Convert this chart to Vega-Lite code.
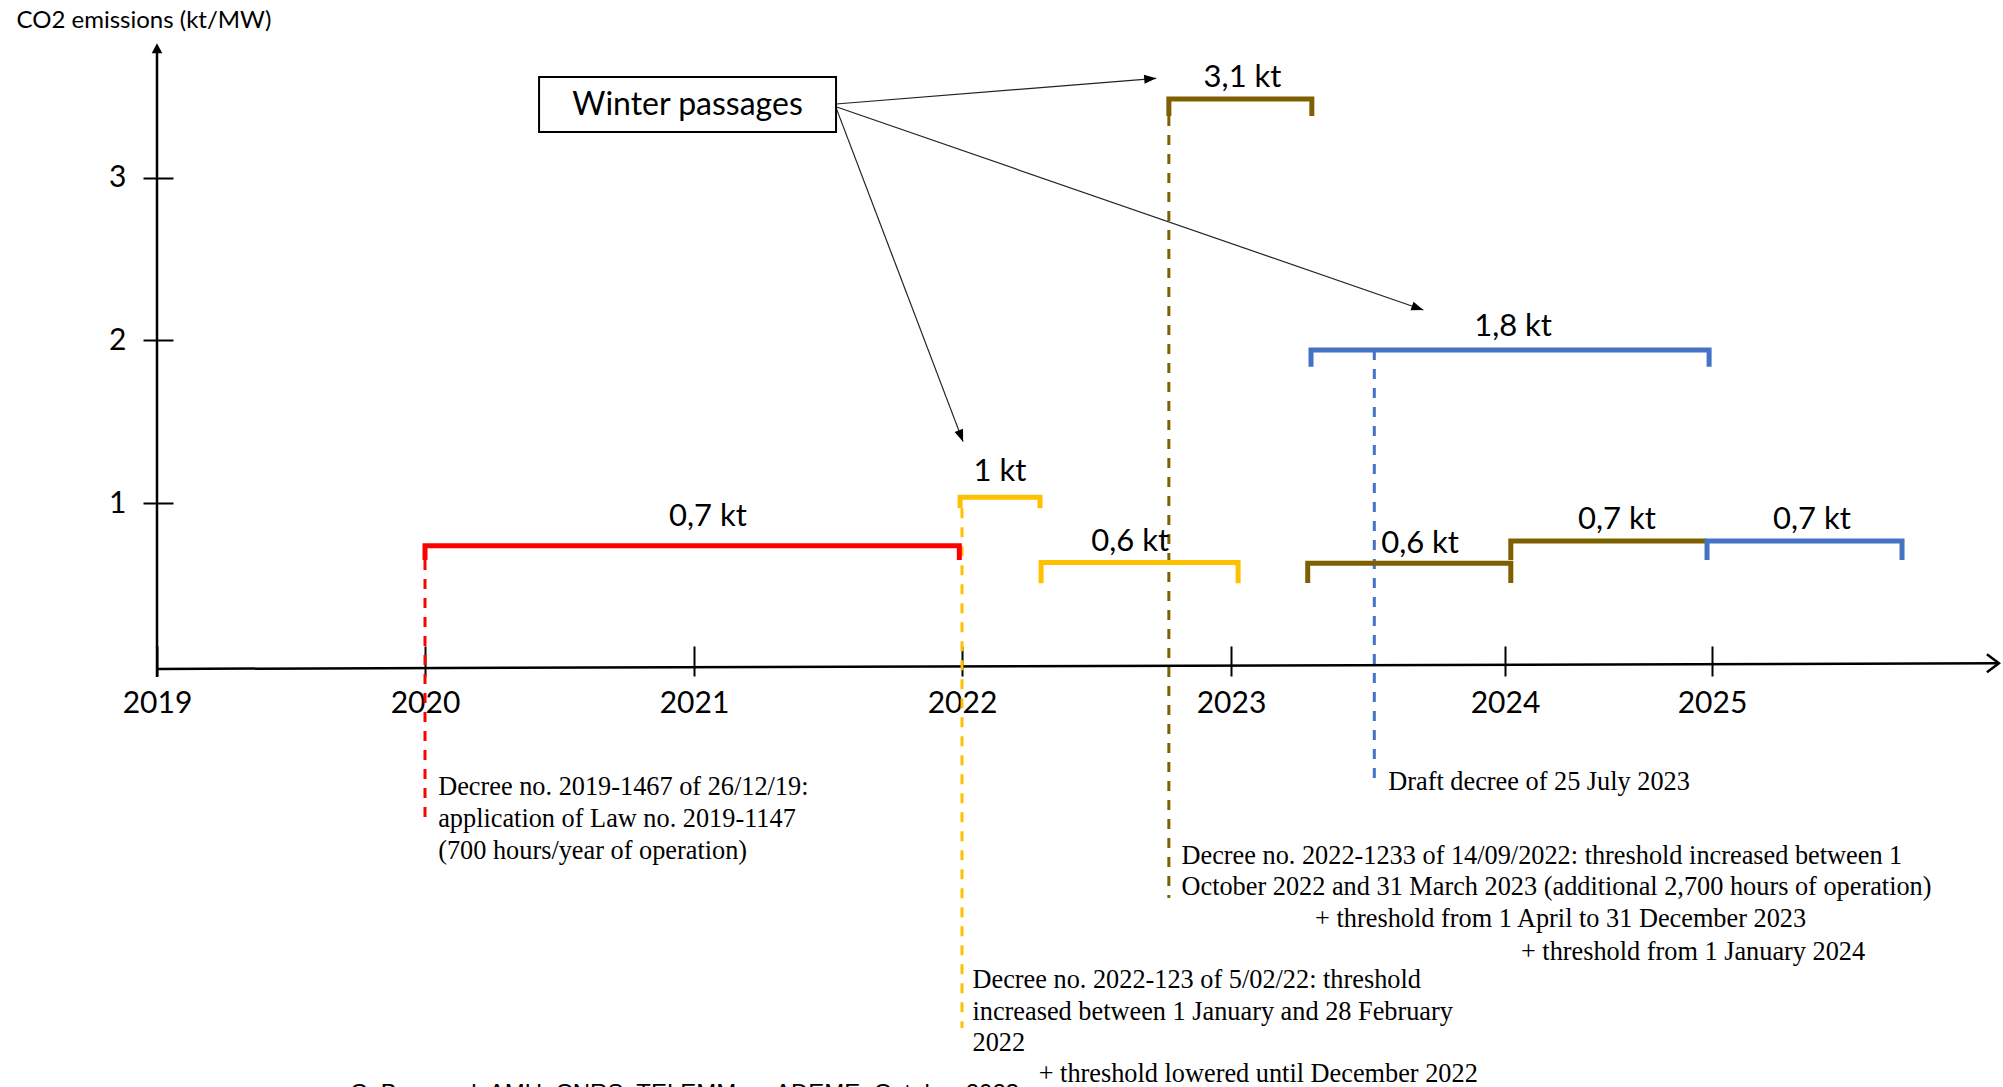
{
  "$schema": "https://vega.github.io/schema/vega-lite/v6.json",
  "width": 1846,
  "height": 666,
  "autosize": {"type": "none"},
  "padding": {"left": 157, "top": 0, "right": 0, "bottom": 421},
  "background": "white",
  "config": {"view": {"stroke": null}, "font": "Lato"},
  "datasets": {
    "brackets": [
      {"id": "b1", "series": "Decree 2019-1467", "seq": 1, "year": 2020.0, "kt": 0.651},
      {"id": "b1", "series": "Decree 2019-1467", "seq": 2, "year": 2020.0, "kt": 0.739},
      {"id": "b1", "series": "Decree 2019-1467", "seq": 3, "year": 2021.99, "kt": 0.739},
      {"id": "b1", "series": "Decree 2019-1467", "seq": 4, "year": 2021.99, "kt": 0.651},
      {"id": "b2", "series": "Decree 2022-123", "seq": 1, "year": 2021.993, "kt": 0.969},
      {"id": "b2", "series": "Decree 2022-123", "seq": 2, "year": 2021.993, "kt": 1.036},
      {"id": "b2", "series": "Decree 2022-123", "seq": 3, "year": 2022.29, "kt": 1.036},
      {"id": "b2", "series": "Decree 2022-123", "seq": 4, "year": 2022.29, "kt": 0.969},
      {"id": "b3", "series": "Decree 2022-123", "seq": 1, "year": 2022.294, "kt": 0.508},
      {"id": "b3", "series": "Decree 2022-123", "seq": 2, "year": 2022.294, "kt": 0.635},
      {"id": "b3", "series": "Decree 2022-123", "seq": 3, "year": 2023.026, "kt": 0.635},
      {"id": "b3", "series": "Decree 2022-123", "seq": 4, "year": 2023.026, "kt": 0.508},
      {"id": "b4", "series": "Decree 2022-1233", "seq": 1, "year": 2022.769, "kt": 3.378},
      {"id": "b4", "series": "Decree 2022-1233", "seq": 2, "year": 2022.769, "kt": 3.483},
      {"id": "b4", "series": "Decree 2022-1233", "seq": 3, "year": 2023.295, "kt": 3.483},
      {"id": "b4", "series": "Decree 2022-1233", "seq": 4, "year": 2023.295, "kt": 3.378},
      {"id": "b5", "series": "Decree 2022-1233", "seq": 1, "year": 2023.28, "kt": 0.51},
      {"id": "b5", "series": "Decree 2022-1233", "seq": 2, "year": 2023.28, "kt": 0.631},
      {"id": "b5", "series": "Decree 2022-1233", "seq": 3, "year": 2024.028, "kt": 0.631},
      {"id": "b5", "series": "Decree 2022-1233", "seq": 4, "year": 2024.028, "kt": 0.51},
      {"id": "b6", "series": "Decree 2022-1233", "seq": 1, "year": 2024.028, "kt": 0.651},
      {"id": "b6", "series": "Decree 2022-1233", "seq": 2, "year": 2024.028, "kt": 0.768},
      {"id": "b6", "series": "Decree 2022-1233", "seq": 3, "year": 2024.971, "kt": 0.768},
      {"id": "b7", "series": "Draft decree 25/07/2023", "seq": 1, "year": 2024.976, "kt": 0.651},
      {"id": "b7", "series": "Draft decree 25/07/2023", "seq": 2, "year": 2024.976, "kt": 0.768},
      {"id": "b7", "series": "Draft decree 25/07/2023", "seq": 3, "year": 2025.918, "kt": 0.768},
      {"id": "b7", "series": "Draft decree 25/07/2023", "seq": 4, "year": 2025.918, "kt": 0.651},
      {"id": "b8", "series": "Draft decree 25/07/2023", "seq": 1, "year": 2023.292, "kt": 1.838},
      {"id": "b8", "series": "Draft decree 25/07/2023", "seq": 2, "year": 2023.292, "kt": 1.941},
      {"id": "b8", "series": "Draft decree 25/07/2023", "seq": 3, "year": 2024.986, "kt": 1.941},
      {"id": "b8", "series": "Draft decree 25/07/2023", "seq": 4, "year": 2024.986, "kt": 1.838}
    ],
    "dashes": [
      {"series": "Decree 2019-1467", "year": 2020.0, "kt": 0.651, "kt2": -0.928},
      {"series": "Decree 2022-123", "year": 2022.0, "kt": 0.969, "kt2": -2.224},
      {"series": "Decree 2022-1233", "year": 2022.769, "kt": 3.378, "kt2": -1.425},
      {"series": "Draft decree 25/07/2023", "year": 2023.523, "kt": 1.941, "kt2": -0.711}
    ],
    "axisLines": [
      {"axis": "y", "year": 2019, "kt": -0.068, "year2": 2019, "kt2": 3.8},
      {"axis": "x", "year": 2019, "kt": -0.018, "year2": 2026.38, "kt2": 0.017}
    ],
    "axisHeads": [
      {"axis": "y", "year": 2019, "kt": 3.825},
      {"axis": "x", "year": 2026.386, "kt": 0.017}
    ],
    "ktLabels": [
      {"text": "0,7 kt", "year": 2021.052, "kt": 0.917},
      {"text": "1 kt", "year": 2022.141, "kt": 1.193},
      {"text": "0,6 kt", "year": 2022.625, "kt": 0.764},
      {"text": "3,1 kt", "year": 2023.042, "kt": 3.61},
      {"text": "1,8 kt", "year": 2024.039, "kt": 2.082},
      {"text": "0,6 kt", "year": 2023.69, "kt": 0.749},
      {"text": "0,7 kt", "year": 2024.541, "kt": 0.897},
      {"text": "0,7 kt", "year": 2025.483, "kt": 0.897}
    ],
    "notes": [
      {"text": "Decree no. 2019-1467 of 26/12/19:", "year": 2020.049, "kt": -0.746},
      {"text": "application of Law no. 2019-1147", "year": 2020.049, "kt": -0.937},
      {"text": "(700 hours/year of operation)", "year": 2020.049, "kt": -1.136},
      {"text": "Draft decree of 25 July 2023", "year": 2023.574, "kt": -0.711},
      {"text": "Decree no. 2022-1233 of 14/09/2022: threshold increased between 1", "year": 2022.816, "kt": -1.167},
      {"text": "October 2022 and 31 March 2023 (additional 2,700 hours of operation)", "year": 2022.816, "kt": -1.359},
      {"text": "+ threshold from 1 April to 31 December 2023", "year": 2023.307, "kt": -1.556},
      {"text": "+ threshold from 1 January 2024", "year": 2024.077, "kt": -1.755},
      {"text": "Decree no. 2022-123 of 5/02/22: threshold", "year": 2022.039, "kt": -1.929},
      {"text": "increased between 1 January and 28 February", "year": 2022.039, "kt": -2.123},
      {"text": "2022", "year": 2022.039, "kt": -2.318},
      {"text": "+ threshold lowered until December 2022", "year": 2022.285, "kt": -2.505}
    ],
    "source": [
      {"text": "C. Bonnaud, AMU, CNRS, TELEMMe – ADEME, October 2023", "year": 2019.72, "kt": -2.672}
    ],
    "box": [
      {"text": "Winter passages", "year": 2020.424, "year2": 2021.53, "kt": 3.618, "kt2": 3.28, "cx": 2020.976, "cy": 3.448}
    ],
    "arrows": [
      {"id": "a1", "year": 2021.53, "kt": 3.452, "year2": 2022.722, "kt2": 3.61},
      {"id": "a2", "year": 2021.53, "kt": 3.435, "year2": 2023.702, "kt2": 2.187},
      {"id": "a3", "year": 2021.53, "kt": 3.43, "year2": 2022.004, "kt2": 1.378}
    ]
  },
  "encoding": {
    "x": {
      "field": "year",
      "type": "quantitative",
      "scale": {"type": "linear", "domain": [2019, 2020, 2021, 2022, 2023, 2024, 2025], "range": [0, 268, 537, 805, 1074, 1348, 1555], "nice": false, "zero": false},
      "axis": {
        "values": [2019, 2020, 2021, 2022, 2023, 2024, 2025],
        "format": "d",
        "domain": false, "grid": false,
        "ticks": true, "tickSize": 30, "tickWidth": 2, "tickColor": "black",
        "offset": -20,
        "labelFont": "Lato", "labelFontSize": 30, "labelColor": "black", "labelPadding": 12,
        "labelFlush": false, "labelOverlap": false,
        "title": null
      }
    },
    "y": {
      "field": "kt",
      "type": "quantitative",
      "scale": {"domain": [0, 4.0909], "nice": false, "zero": false},
      "axis": {
        "values": [1, 2, 3],
        "domain": false, "grid": false,
        "ticks": true, "tickSize": 30, "tickWidth": 2, "tickColor": "black",
        "offset": -16,
        "labelFont": "Lato", "labelFontSize": 30, "labelColor": "black", "labelPadding": 17,
        "title": "CO2 emissions (kt/MW)",
        "titleFont": "Lato", "titleFontSize": 24, "titleFontWeight": "normal", "titleColor": "black",
        "titleAngle": 0, "titleAlign": "left", "titleBaseline": "middle",
        "titleX": -157, "titleY": 20
      }
    }
  },
  "layer": [
    {
      "data": {"name": "axisLines"},
      "mark": {"type": "rule", "strokeWidth": 2.5, "color": "black"},
      "encoding": {"x2": {"field": "year2"}, "y2": {"field": "kt2"}}
    },
    {
      "data": {"name": "axisHeads"},
      "transform": [{"filter": "datum.axis === 'y'"}],
      "mark": {"type": "point", "shape": "M0,0L0.53,1L-0.53,1Z", "size": 400, "filled": true, "color": "black", "opacity": 1, "angle": 0}
    },
    {
      "data": {"name": "axisHeads"},
      "transform": [{"filter": "datum.axis === 'x'"}],
      "mark": {"type": "point", "shape": "M-0.75,1L0,0L0.75,1", "size": 576, "filled": false, "color": "black", "opacity": 1, "strokeWidth": 2.5, "angle": 90}
    },
    {
      "data": {"name": "dashes"},
      "mark": {"type": "rule", "strokeWidth": 3, "strokeDash": [10, 9]},
      "encoding": {
        "y2": {"field": "kt2"},
        "color": {"field": "series", "type": "nominal", "legend": null,
          "scale": {"domain": ["Decree 2019-1467", "Decree 2022-123", "Decree 2022-1233", "Draft decree 25/07/2023"], "range": ["#FF0000", "#FFC000", "#7F6000", "#4472C4"]}}
      }
    },
    {
      "data": {"name": "brackets"},
      "mark": {"type": "line", "strokeWidth": 5, "strokeJoin": "miter", "strokeCap": "butt"},
      "encoding": {
        "detail": {"field": "id"},
        "order": {"field": "seq", "type": "quantitative"},
        "color": {"field": "series", "type": "nominal", "legend": null,
          "scale": {"domain": ["Decree 2019-1467", "Decree 2022-123", "Decree 2022-1233", "Draft decree 25/07/2023"], "range": ["#FF0000", "#FFC000", "#7F6000", "#4472C4"]}}
      }
    },
    {
      "data": {"name": "arrows"},
      "mark": {"type": "rule", "strokeWidth": 1.2, "color": "#222222"},
      "encoding": {"x2": {"field": "year2"}, "y2": {"field": "kt2"}}
    },
    {
      "data": {"name": "arrows"},
      "transform": [{"filter": "datum.id === 'a1'"}],
      "mark": {"type": "point", "shape": "M0,0L0.375,1L-0.375,1Z", "size": 576, "filled": true, "color": "black", "opacity": 1, "angle": 85.4},
      "encoding": {"x": {"field": "year2", "type": "quantitative"}, "y": {"field": "kt2", "type": "quantitative"}}
    },
    {
      "data": {"name": "arrows"},
      "transform": [{"filter": "datum.id === 'a2'"}],
      "mark": {"type": "point", "shape": "M0,0L0.375,1L-0.375,1Z", "size": 576, "filled": true, "color": "black", "opacity": 1, "angle": 109.1},
      "encoding": {"x": {"field": "year2", "type": "quantitative"}, "y": {"field": "kt2", "type": "quantitative"}}
    },
    {
      "data": {"name": "arrows"},
      "transform": [{"filter": "datum.id === 'a3'"}],
      "mark": {"type": "point", "shape": "M0,0L0.375,1L-0.375,1Z", "size": 576, "filled": true, "color": "black", "opacity": 1, "angle": 159.2},
      "encoding": {"x": {"field": "year2", "type": "quantitative"}, "y": {"field": "kt2", "type": "quantitative"}}
    },
    {
      "data": {"name": "box"},
      "mark": {"type": "rect", "fill": "white", "stroke": "black", "strokeWidth": 2},
      "encoding": {"x2": {"field": "year2"}, "y2": {"field": "kt2"}}
    },
    {
      "data": {"name": "box"},
      "mark": {"type": "text", "font": "Lato", "fontSize": 32, "color": "black", "align": "center", "baseline": "middle"},
      "encoding": {"x": {"field": "cx", "type": "quantitative"}, "y": {"field": "cy", "type": "quantitative"}, "text": {"field": "text"}}
    },
    {
      "data": {"name": "ktLabels"},
      "mark": {"type": "text", "font": "Lato", "fontSize": 31, "color": "black", "align": "center", "baseline": "middle"},
      "encoding": {"text": {"field": "text"}}
    },
    {
      "data": {"name": "notes"},
      "mark": {"type": "text", "font": "Liberation Serif", "fontSize": 26.3, "color": "black", "align": "left", "baseline": "middle"},
      "encoding": {"text": {"field": "text"}}
    },
    {
      "data": {"name": "source"},
      "mark": {"type": "text", "font": "Liberation Sans", "fontSize": 24, "color": "black", "align": "left", "baseline": "alphabetic"},
      "encoding": {"text": {"field": "text"}}
    }
  ]
}
